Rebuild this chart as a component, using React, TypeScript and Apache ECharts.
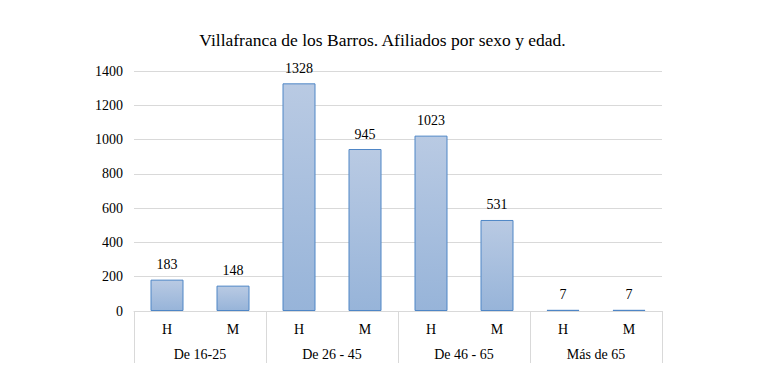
import React, { useEffect, useRef } from "react";
import * as echarts from "echarts";

const sexLabels = ["H", "M", "H", "M", "H", "M", "H", "M"];
const ageGroups = ["De 16-25", "De 26 - 45", "De 46 - 65", "Más de 65"];
const afiliados = [183, 148, 1328, 945, 1023, 531, 7, 7];
const titleText = "Villafranca de los Barros. Afiliados por sexo y edad.";

const FONT = "'Liberation Serif', 'DejaVu Serif', serif";

export default function App() {
  const ref = useRef<HTMLDivElement>(null);
  useEffect(() => {
    if (!ref.current) return;
    const chart = echarts.init(ref.current, null, { renderer: "svg" });
    chart.setOption({
      animation: false,
      backgroundColor: "#fff",
      title: {
        text: titleText,
        left: "center",
        top: 26,
        textStyle: { fontFamily: FONT, fontSize: 17.5, fontWeight: "normal", color: "#000" },
      },
      grid: { left: 134, right: 103, top: 71, bottom: 71, containLabel: false },
      xAxis: [
        {
          type: "category",
          data: sexLabels,
          position: "bottom",
          axisLine: { show: true, lineStyle: { color: "#d9d9d9", width: 1 } },
          axisTick: { show: false },
          axisLabel: { fontFamily: FONT, fontSize: 14, color: "#000", margin: 11 },
        },
        {
          type: "category",
          data: ageGroups,
          position: "bottom",
          boundaryGap: true,
          axisLine: { show: false },
          axisTick: { show: true, length: 52, lineStyle: { color: "#d9d9d9", width: 1 } },
          axisLabel: { fontFamily: FONT, fontSize: 14, color: "#000", margin: 36 },
        },
      ],
      yAxis: {
        type: "value",
        min: 0,
        max: 1400,
        interval: 200,
        axisLine: { show: false },
        axisTick: { show: false },
        splitLine: { lineStyle: { color: "#d9d9d9", width: 1 } },
        axisLabel: {
          fontFamily: FONT,
          fontSize: 14,
          color: "#000",
          margin: 11,
          formatter: (v: number) => String(v),
        },
      },
      series: [
        {
          type: "bar",
          xAxisIndex: 0,
          data: afiliados,
          barWidth: 33,
          itemStyle: {
            color: new echarts.graphic.LinearGradient(0, 0, 0, 1, [
              { offset: 0, color: "#b9cae3" },
              { offset: 1, color: "#97b4d9" },
            ]),
            borderColor: "#4f86c6",
            borderWidth: 1,
          },
          label: {
            show: true,
            position: "top",
            distance: 8,
            fontFamily: FONT,
            fontSize: 14,
            color: "#000",
          },
        },
      ],
    });
    return () => chart.dispose();
  }, []);
  return (
    <div
      ref={ref}
      style={{ position: "absolute", left: 0, top: 0, width: 765, height: 382 }}
    />
  );
}
